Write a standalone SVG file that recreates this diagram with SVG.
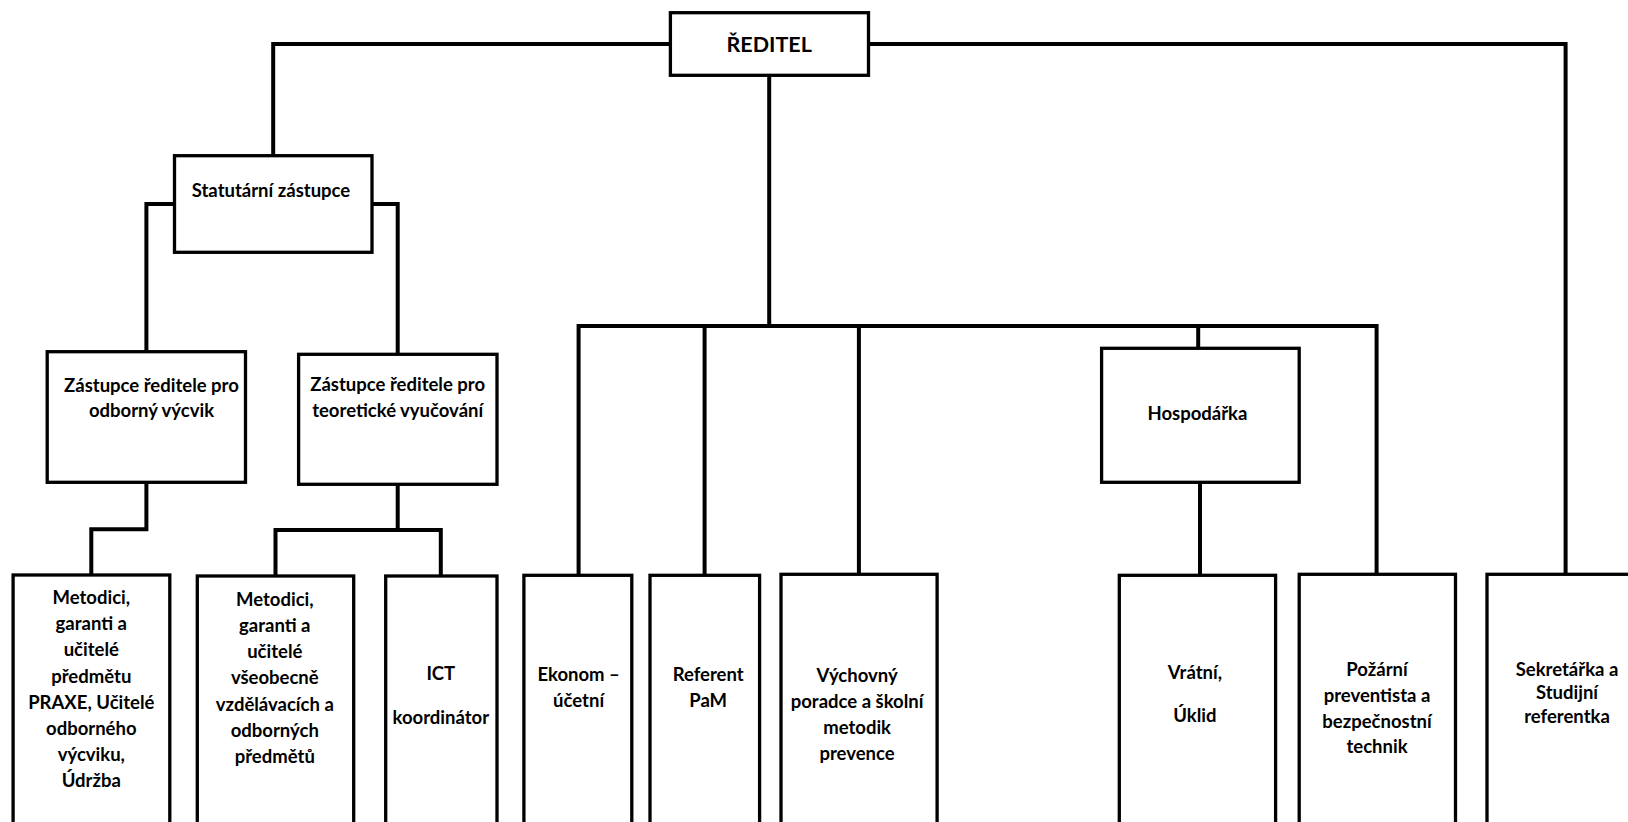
<svg xmlns="http://www.w3.org/2000/svg" width="1628" height="822" viewBox="0 0 1628 822">
<style>
.box{fill:#fff;stroke:#000;stroke-width:3.3}
.con{fill:none;stroke:#000;stroke-width:4;stroke-linejoin:miter;stroke-linecap:square}
text{font-family:Lato,"Liberation Sans",sans-serif;font-weight:bold;font-size:18.5px;fill:#000;text-anchor:middle}
.big{font-size:21.5px}
</style>
<rect width="1628" height="822" fill="#fff"/>
<g id="connectors">
<path class="con" d="M670.4 44 H273.2 V155.7"/>
<path class="con" d="M868.5 44 H1565.6 V575"/>
<path class="con" d="M769.2 75.3 V326"/>
<path class="con" d="M578.6 575 V326 H1376.6 V574.3"/>
<path class="con" d="M704.6 326 V575"/>
<path class="con" d="M858.9 326 V574.3"/>
<path class="con" d="M1198.2 326 V348.3"/>
<path class="con" d="M1200 482.3 V575"/>
<path class="con" d="M174.5 204 H146.4 V351.7"/>
<path class="con" d="M372 204 H397.7 V354.3"/>
<path class="con" d="M146.4 482.3 V529.3 H91.3 V575"/>
<path class="con" d="M397.7 484.3 V530 M275.5 576 V530 H440.8 V576"/>
</g>
<g id="reditel">
<rect class="box" x="670.4" y="12.7" width="198.1" height="62.6"/>
<text class="big" x="769.2" y="52.3">ŘEDITEL</text>
</g>
<g id="statutarni">
<rect class="box" x="174.5" y="155.7" width="197.5" height="96.6"/>
<text x="271" y="196.5">Statutární zástupce</text>
</g>
<g id="zastupce-ov">
<rect class="box" x="47.2" y="351.7" width="198.3" height="130.6"/>
<text x="151.5" y="391.7">Zástupce ředitele pro</text>
<text x="151.5" y="417.3">odborný výcvik</text>
</g>
<g id="zastupce-tv">
<rect class="box" x="298.6" y="354.3" width="198.4" height="130"/>
<text x="397.7" y="390.7">Zástupce ředitele pro</text>
<text x="397.7" y="416.7">teoretické vyučování</text>
</g>
<g id="hospodarka">
<rect class="box" x="1101.6" y="348.3" width="197.6" height="134"/>
<text x="1197.4" y="420">Hospodářka</text>
</g>
<g id="metodici-praxe">
<rect class="box" x="13.1" y="575" width="156.7" height="260"/>
<text x="91.3" y="604">Metodici,</text>
<text x="91.3" y="630.2">garanti a</text>
<text x="91.3" y="656.4">učitelé</text>
<text x="91.3" y="682.6">předmětu</text>
<text x="91.3" y="708.8">PRAXE, Učitelé</text>
<text x="91.3" y="735">odborného</text>
<text x="91.3" y="761.2">výcviku,</text>
<text x="91.3" y="787.4">Údržba</text>
</g>
<g id="metodici-vzdel">
<rect class="box" x="197.3" y="576" width="156.4" height="260"/>
<text x="274.8" y="605.7">Metodici,</text>
<text x="274.8" y="631.9">garanti a</text>
<text x="274.8" y="658.1">učitelé</text>
<text x="274.8" y="684.3">všeobecně</text>
<text x="274.8" y="710.5">vzdělávacích a</text>
<text x="274.8" y="736.7">odborných</text>
<text x="274.8" y="762.9">předmětů</text>
</g>
<g id="ict">
<rect class="box" x="385.7" y="576" width="111.3" height="260"/>
<text x="440.8" y="680">ICT</text>
<text x="440.8" y="724">koordinátor</text>
</g>
<g id="ekonom">
<rect class="box" x="523.9" y="575.3" width="107.9" height="260"/>
<text x="578.6" y="681">Ekonom –</text>
<text x="578.6" y="706.7">účetní</text>
</g>
<g id="referent">
<rect class="box" x="650" y="575.3" width="109.6" height="260"/>
<text x="708.2" y="681">Referent</text>
<text x="708.2" y="706.7">PaM</text>
</g>
<g id="vychovny">
<rect class="box" x="781" y="574.3" width="156.1" height="260"/>
<text x="857.1" y="682.3">Výchovný</text>
<text x="857.1" y="708.3">poradce a školní</text>
<text x="857.1" y="734.3">metodik</text>
<text x="857.1" y="760.3">prevence</text>
</g>
<g id="vratni">
<rect class="box" x="1119.3" y="575.3" width="156.3" height="260"/>
<text x="1194.9" y="679">Vrátní,</text>
<text x="1194.9" y="721.7">Úklid</text>
</g>
<g id="pozarni">
<rect class="box" x="1299.2" y="574.3" width="156.3" height="260"/>
<text x="1377" y="675.7">Požární</text>
<text x="1377" y="701.7">preventista a</text>
<text x="1377" y="727.7">bezpečnostní</text>
<text x="1377" y="753.3">technik</text>
</g>
<g id="sekretarka">
<rect class="box" x="1487" y="574.3" width="160" height="260"/>
<text x="1567" y="675.7">Sekretářka a</text>
<text x="1567" y="699.4">Studijní</text>
<text x="1567" y="723">referentka</text>
</g>
</svg>
